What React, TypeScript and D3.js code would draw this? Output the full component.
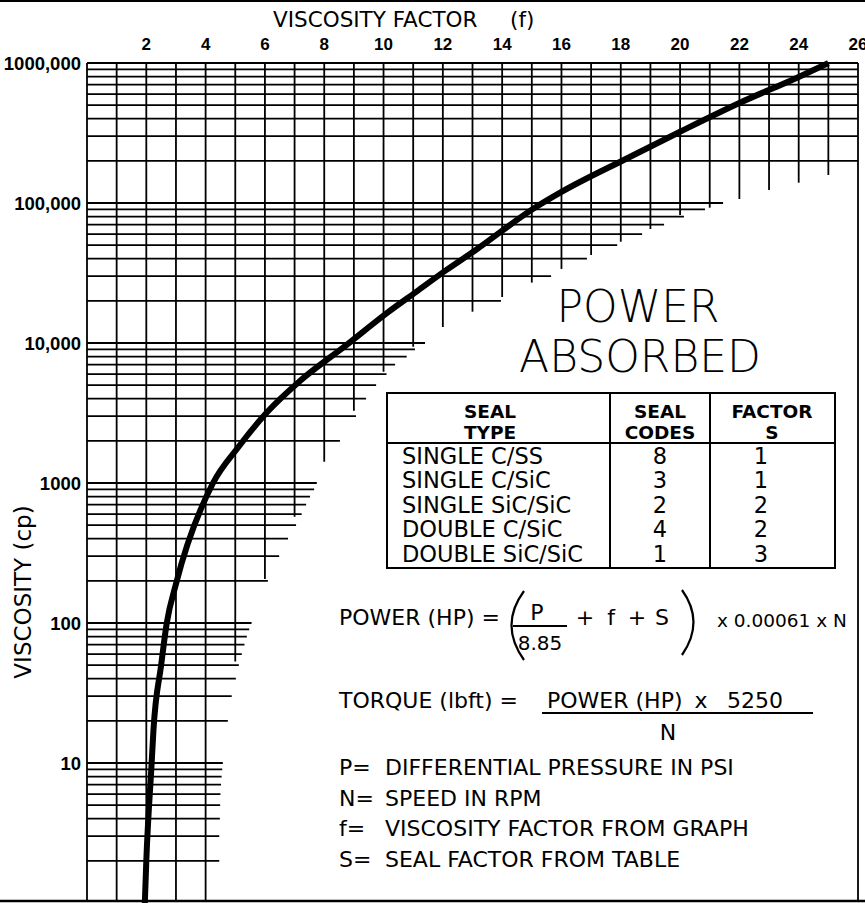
import * as d3 from 'd3';

// top axis: viscosity factor f
const fTickValues = [2, 4, 6, 8, 10, 12, 14, 16, 18, 20, 22, 24, 26];
// left axis: viscosity in cp (labels as printed)
const yLabelValues = [10, 100, 1000, 10000, 100000, 1000000];
const yLabelText = ['10', '100', '1000', '10,000', '100,000', '1000,000'];

// how far right each horizontal rule runs (f units), one per log tick 2 .. 1,000,000
const hRuleEndF = [
	4.46, 4.46, 4.48, 4.49, 4.5, 4.52, 4.54, 4.56,
	4.58, 4.75, 4.88, 5.02, 5.12, 5.22, 5.31, 5.39, 5.47,
	5.55, 6.1, 6.48, 6.78, 7.05, 7.24, 7.39, 7.52, 7.66,
	7.75, 8.53, 9.07, 9.41, 9.75, 10.1, 10.39, 10.78, 11.06,
	11.4, 13.96, 15.65, 16.86, 17.88, 18.72, 19.46, 20.13, 20.84,
	21.45, 26, 26, 26, 26, 26, 26, 26, 26,
	26,
];
// how far down each vertical rule runs (cp), f = 0 .. 26 ; 1 = all the way down
const vRuleEndCp = [
	1, 1, 1, 1, 1, 53, 206, 574, 1420, 3283, 6237, 9415, 13000, 16740,
	21300, 27000, 33800, 42500, 52900, 65200, 82100, 92600, 106800, 123800, 139700, 158500, 1,
];

// the viscosity factor curve
const curveF = [1.95, 2.0, 2.18, 2.24, 2.5, 2.69, 3.0, 4.25, 5.1, 6.07, 7.2, 8.7, 10.1, 11.1, 12.1, 13.1, 15.05, 16.0, 18.1, 20.0, 22.0, 24.0, 25.0];
const curveCp = [1, 2, 10, 17, 50, 100, 190, 1000, 1800, 3200, 5400, 9500, 16300, 23200, 33000, 46000, 91000, 120000, 203000, 323000, 518000, 795000, 1000000];

// seal table
const sealTypes = ['SINGLE C/SS', 'SINGLE C/SiC', 'SINGLE SiC/SiC', 'DOUBLE C/SiC', 'DOUBLE SiC/SiC'];
const sealCodes = ['8', '3', '2', '4', '1'];
const sealFactors = ['1', '1', '2', '2', '3'];

const noteKeys = ['P=', 'N=', 'f=', 'S='];
const noteTexts = ['DIFFERENTIAL PRESSURE IN PSI', 'SPEED IN RPM', 'VISCOSITY FACTOR FROM GRAPH', 'SEAL FACTOR FROM TABLE'];

const W = 865;
const H = 903;
const cad = "'DejaVu Sans', sans-serif";
const num = "'Liberation Sans', Arial, sans-serif";

export default function App() {
	const x = d3.scaleLinear().domain([0, 26]).range([87, 858]);
	const y = d3.scaleLog().domain([1, 1e6]).range([903, 63]);
	const bottom = 901;

	const hTicks = y.ticks().filter(v => v > 1);
	const fGrid = d3.range(0, 27);

	const line = d3
		.line<number>()
		.x((d, i) => x(curveF[i]))
		.y(d => y(d))
		.curve(d3.curveMonotoneX);

	const tx = [387, 610, 710, 835];
	const rowBase = (i: number) => 463.5 + i * 24.5;

	return (
		<div style={{ position: 'absolute', left: 0, top: 0 }}>
			<svg width={W} height={H} style={{ display: 'block', background: '#fff' }}>
				<g stroke="#000" strokeWidth={1.8} fill="none">
					<line x1={0} x2={W} y1={1} y2={1} strokeWidth={2} />
					<line x1={0} x2={W} y1={bottom} y2={bottom} strokeWidth={2.5} />
					{hTicks.map((v, i) => (
						<line key={'h' + i} x1={x(0)} x2={x(hRuleEndF[i])} y1={y(v)} y2={y(v)} />
					))}
					{fGrid.map(f => (
						<line key={'v' + f} x1={x(f)} x2={x(f)} y1={y(1e6)} y2={Math.min(bottom, y(vRuleEndCp[f]))} />
					))}
				</g>

				<path d={line(curveCp) || ''} fill="none" stroke="#000" strokeWidth={6} />

				<g fontFamily={num} fontWeight="bold" fontSize={17} textAnchor="middle">
					{fTickValues.map(f => (
						<text key={f} x={x(f)} y={50}>
							{f}
						</text>
					))}
				</g>
				<g fontFamily={num} fontWeight="bold" fontSize={18.5} textAnchor="end">
					{yLabelValues.map((v, i) => (
						<text key={v} x={81} y={y(v) + 6.5}>
							{yLabelText[i]}
						</text>
					))}
				</g>

				<g fontFamily={cad} fill="#000">
					<text x={273} y={27} fontSize={21.5}>VISCOSITY FACTOR</text>
					<text x={510} y={27} fontSize={21.5}>(f)</text>
					<text transform="translate(31,592) rotate(-90)" textAnchor="middle" fontSize={23}>
						VISCOSITY (cp)
					</text>

					<text x={638} y={322} textAnchor="middle" fontSize={44} fontWeight={200}>
						POWER
					</text>
					<text x={640} y={372} textAnchor="middle" fontSize={44} fontWeight={200}>
						ABSORBED
					</text>
				</g>

				{/* seal table */}
				<g stroke="#000" strokeWidth={2} fill="none">
					<rect x={tx[0]} y={393} width={tx[3] - tx[0]} height={568 - 393} />
					<line x1={tx[0]} x2={tx[3]} y1={443} y2={443} />
					<line x1={tx[1]} x2={tx[1]} y1={393} y2={568} />
					<line x1={tx[2]} x2={tx[2]} y1={393} y2={568} />
				</g>
				<g fontFamily={cad} fontSize={18.5} fontWeight="bold" textAnchor="middle">
					<text x={490} y={418}>SEAL</text>
					<text x={490} y={438.5}>TYPE</text>
					<text x={660} y={418}>SEAL</text>
					<text x={660} y={438.5}>CODES</text>
					<text x={772} y={418}>FACTOR</text>
					<text x={772} y={438.5}>S</text>
				</g>
				<g fontFamily={cad} fontSize={22.5}>
					{sealTypes.map((s, i) => (
						<text key={s} x={402} y={rowBase(i)}>
							{s}
						</text>
					))}
					{sealCodes.map((s, i) => (
						<text key={'c' + i} x={660} y={rowBase(i)} textAnchor="middle">
							{s}
						</text>
					))}
					{sealFactors.map((s, i) => (
						<text key={'s' + i} x={761} y={rowBase(i)} textAnchor="middle">
							{s}
						</text>
					))}
				</g>

				{/* formulas */}
				<g fontFamily={cad} fontSize={22}>
					<text x={339} y={625}>POWER (HP) =</text>
					<text x={537} y={620} textAnchor="middle">P</text>
					<text x={540} y={650} textAnchor="middle" fontSize={20}>8.85</text>
					<text x={585} y={625} textAnchor="middle">+</text>
					<text x={611} y={625} textAnchor="middle">f</text>
					<text x={637} y={625} textAnchor="middle">+</text>
					<text x={662} y={625} textAnchor="middle">S</text>
					<text x={717} y={627} fontSize={18.5}>x 0.00061 x N</text>

					<text x={339} y={708}>TORQUE (lbft) =</text>
					<text x={547} y={708}>POWER (HP)</text>
					<text x={701} y={708} textAnchor="middle">x</text>
					<text x={727} y={708}>5250</text>
					<text x={668} y={740} textAnchor="middle">N</text>

					{noteKeys.map((k, i) => (
						<g key={k}>
							<text x={339} y={775 + i * 30.5}>{k}</text>
							<text x={385} y={775 + i * 30.5}>{noteTexts[i]}</text>
						</g>
					))}
				</g>
				<g stroke="#000" fill="none">
					<line x1={513} x2={567} y1={626} y2={626} strokeWidth={2} />
					<line x1={542} x2={813} y1={713} y2={713} strokeWidth={2} />
					<path d="M524,591 Q499,625 524,660" strokeWidth={2.2} />
					<path d="M682,590 Q705,622 682,655" strokeWidth={2.2} />
				</g>
			</svg>
		</div>
	);
}
